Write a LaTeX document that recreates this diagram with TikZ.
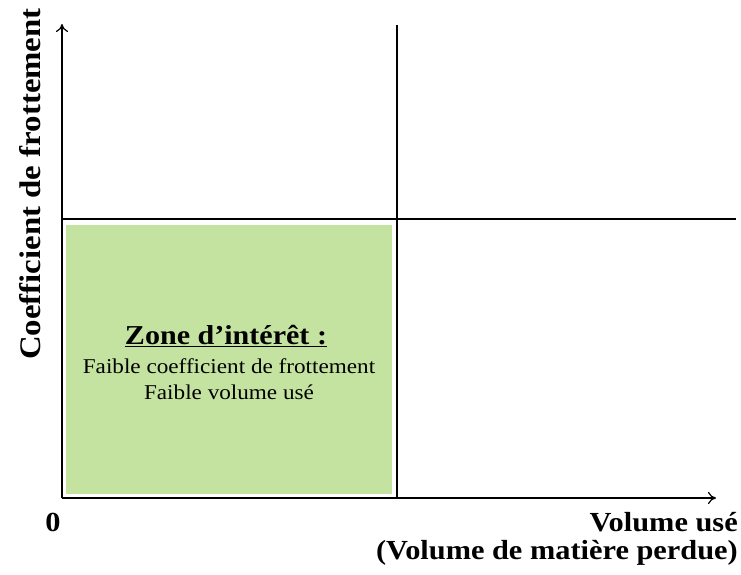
\documentclass[tikz,border=0pt]{standalone}
\usepackage{fontspec}
\setmainfont{Liberation Serif}
\newfontfamily\widefont[FakeStretch=1.1]{Liberation Serif}
\usetikzlibrary{arrows.meta}
\definecolor{zonegreen}{HTML}{C4E3A0}
\tikzset{
  axis/.style={draw=black, line width=0.9pt, -{To[length=6pt,width=9pt]}},
  grid line/.style={draw=black, line width=0.9pt},
  axislabel/.style={font=\widefont\fontsize{20.7}{24}\selectfont\bfseries, inner sep=0pt},
  boxtext/.style={font=\widefont\fontsize{15.8}{19.5}\selectfont, align=center, inner sep=0pt},
}
\begin{document}
\begin{tikzpicture}[x=0.75pt, y=-0.75pt]
\useasboundingbox (0,0) rectangle (741,574);
\coordinate (O) at (62,498);
\coordinate (ytop) at (62,24);
\coordinate (xend) at (716,498);
\coordinate (hl) at (62,219);
\coordinate (hr) at (736,219);
\coordinate (vt) at (397,25);
\coordinate (vb) at (397,498);
\node[fill=zonegreen, minimum width=326*0.75pt, minimum height=269*0.75pt, inner sep=0pt, anchor=north west] (zone) at (66,225) {};
\draw[grid line] (hl) -- (hr);
\draw[grid line] (vt) -- (vb);
\draw[axis] (O) -- (ytop);
\draw[axis] (O) -- (xend);
\node[axislabel, font=\widefont\fontsize{22.4}{26}\selectfont\bfseries, rotate=90] (ylab) at (30,184) {Coefficient de frottement};
\node[axislabel] (zero) at (53,522) {0};
\node[axislabel, anchor=east] (xlab1) at (738,522) {Volume usé};
\node[axislabel, anchor=east] (xlab2) at (738,553) {(Volume de matière perdue)};
\node[font=\widefont\fontsize{20.5}{24}\selectfont\bfseries, inner sep=0pt] (title) at (226,336) {\underline{Zone d’intérêt :}};
\node[boxtext] (desc) at (229,379) {Faible coefficient de frottement\\Faible volume usé};
\end{tikzpicture}
\end{document}
